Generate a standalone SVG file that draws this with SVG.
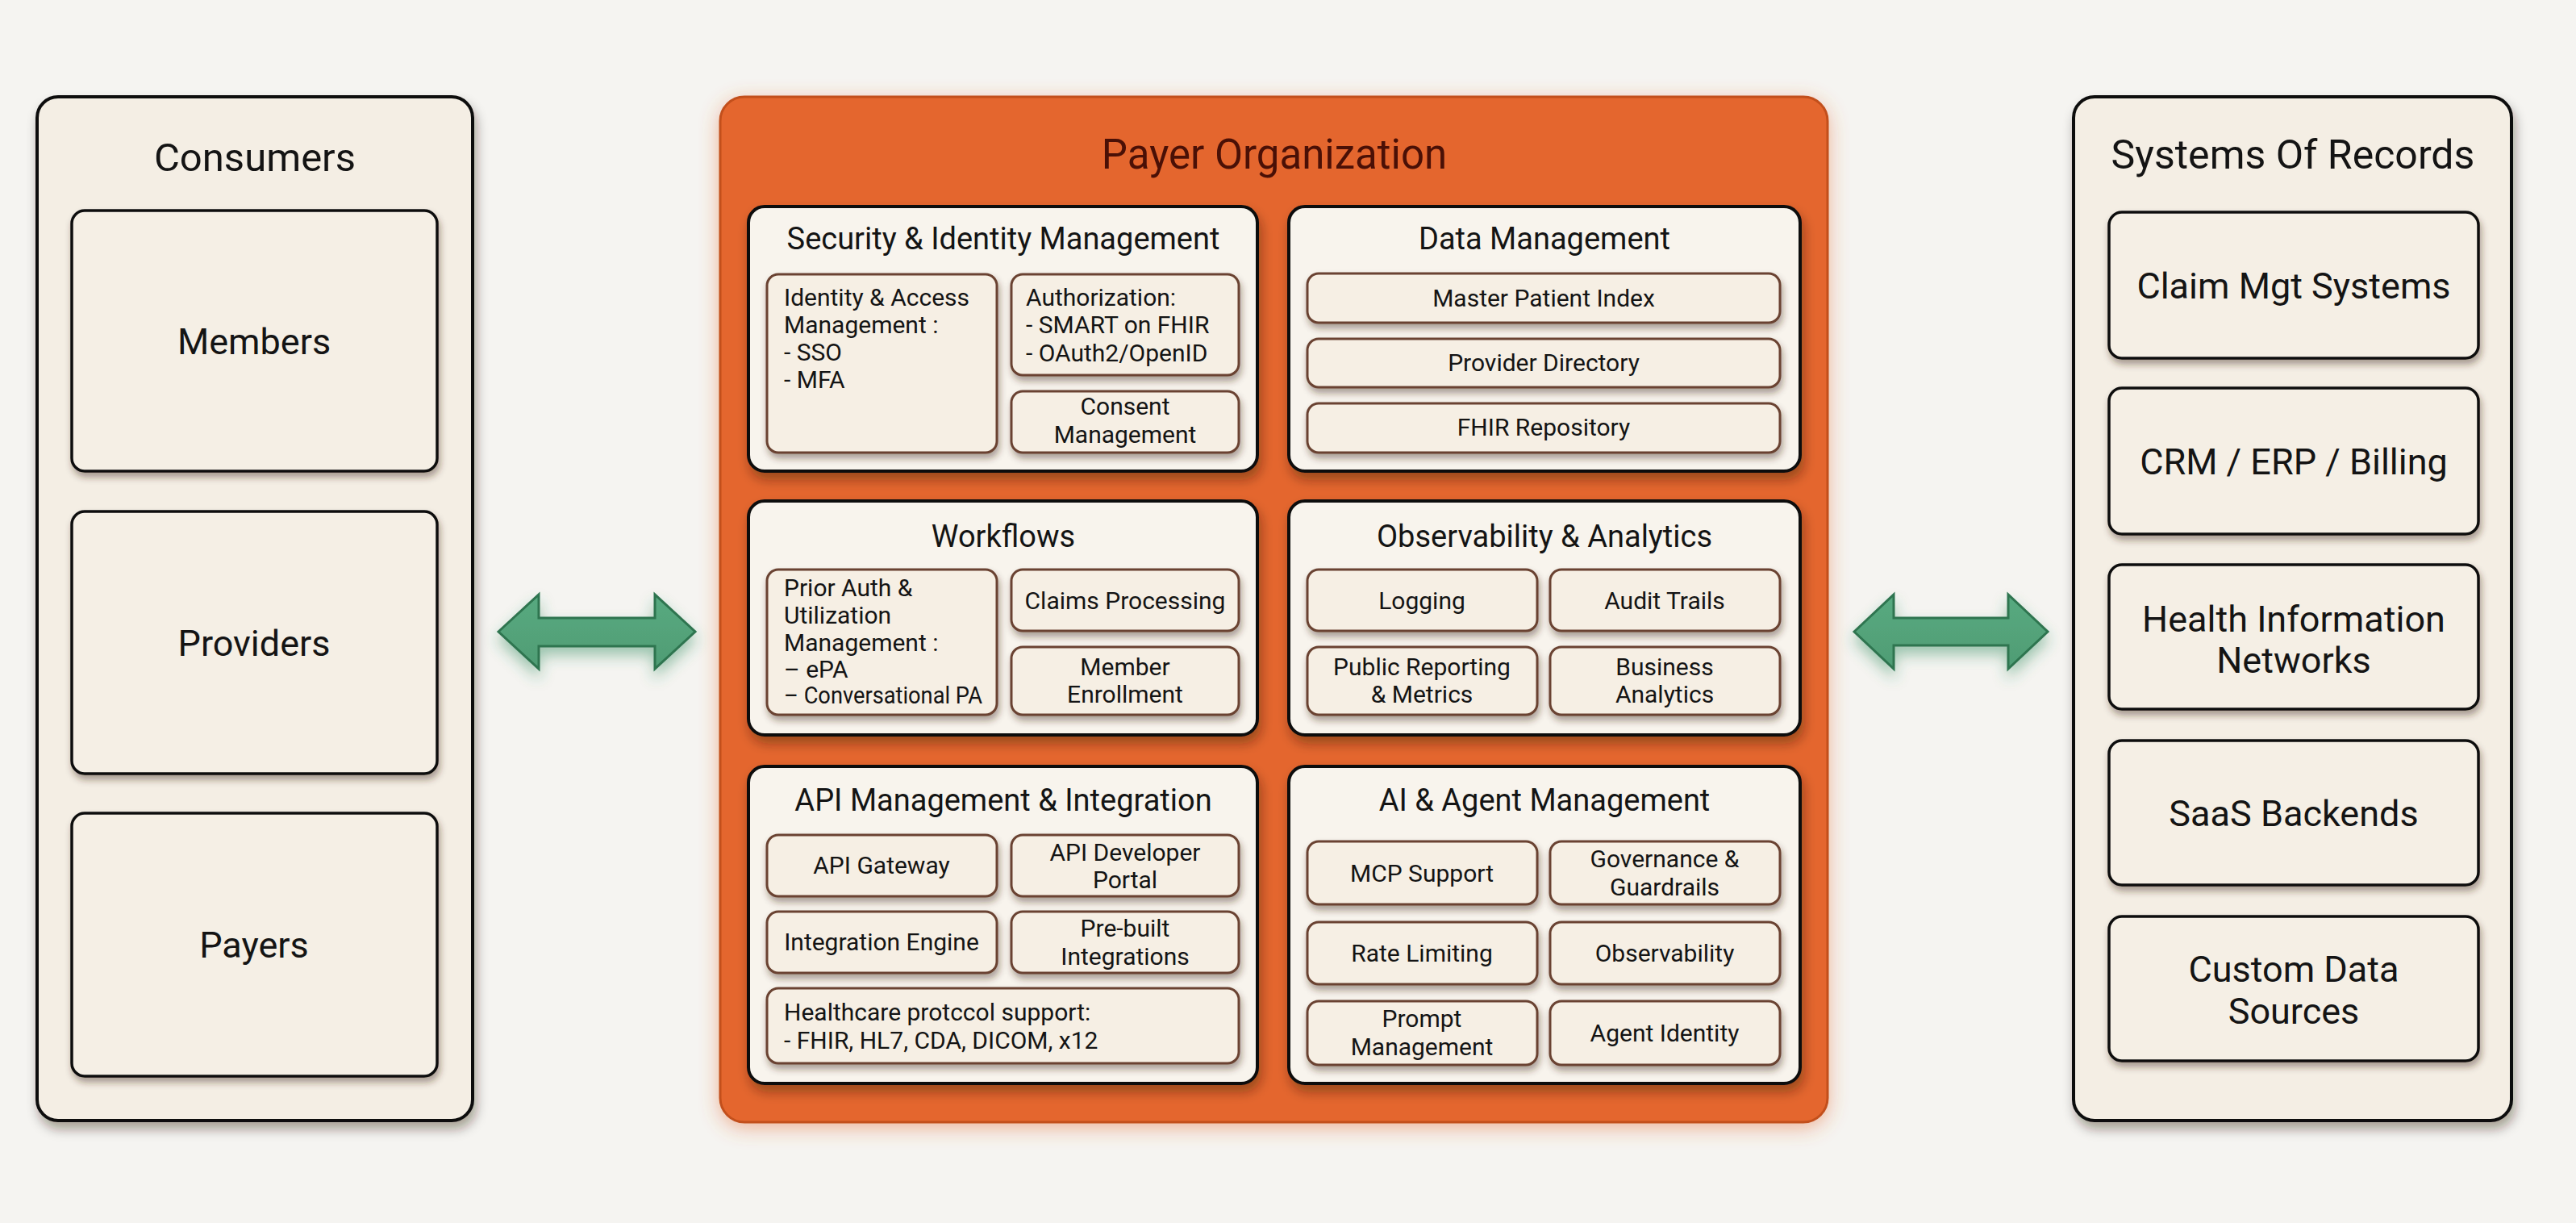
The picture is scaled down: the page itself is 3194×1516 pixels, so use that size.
<svg xmlns="http://www.w3.org/2000/svg" width="3194" height="1516" viewBox="0 0 3194 1516">
<defs>
<filter id="shBig" x="-10%" y="-10%" width="120%" height="120%">
<feDropShadow dx="3" dy="9" stdDeviation="7" flood-color="#2a1a10" flood-opacity="0.38"/>
</filter>
<filter id="shSm" x="-10%" y="-20%" width="120%" height="150%">
<feDropShadow dx="2" dy="6" stdDeviation="4" flood-color="#3a2414" flood-opacity="0.42"/>
</filter>
<filter id="glowOr" x="-10%" y="-10%" width="120%" height="120%">
<feDropShadow dx="0" dy="6" stdDeviation="12" flood-color="#e4662d" flood-opacity="0.45"/>
</filter>
<filter id="glowGr" x="-30%" y="-50%" width="160%" height="220%">
<feDropShadow dx="0" dy="10" stdDeviation="9" flood-color="#2f8a5a" flood-opacity="0.45"/>
</filter>
<linearGradient id="grArrow" x1="0" y1="0" x2="0" y2="1">
<stop offset="0" stop-color="#58aa80"/>
<stop offset="1" stop-color="#4f9c74"/>
</linearGradient>
</defs>
<style>
text{font-family:Roboto,"Liberation Sans","Noto Sans",sans-serif;fill:#141414}
.col{fill:#f4eee4;stroke:#111;stroke-width:4;filter:url(#shBig)}
.colItem{fill:#f5efe5;stroke:#111;stroke-width:3.5;filter:url(#shSm)}
.sec{fill:#f8f4ed;stroke:#111;stroke-width:4;filter:url(#shBig)}
.sub{fill:#f6efe4;stroke:#6a4330;stroke-width:3;filter:url(#shSm)}
.h1{font-size:49px;text-anchor:middle}
.h2{font-size:38px;text-anchor:middle}
.it{font-size:45px;text-anchor:middle}
.sm{font-size:30px}
.smc{font-size:30px;text-anchor:middle}
.arrow{fill:url(#grArrow);stroke:#2e7450;stroke-width:3;stroke-linejoin:miter;filter:url(#glowGr)}
</style>
<rect x="0" y="0" width="3194" height="1516" fill="#f5f4f1"/>

<g id="consumers">
<rect class="col" x="46" y="120" width="540" height="1269" rx="26"/>
<text class="h1" x="316" y="212">Consumers</text>
</g>
<g id="members">
<rect class="colItem" x="89" y="261" width="453" height="323" rx="16"/>
<text class="it" x="315" y="439">Members</text>
</g>
<g id="providers">
<rect class="colItem" x="89" y="634" width="453" height="325" rx="16"/>
<text class="it" x="315" y="813">Providers</text>
</g>
<g id="payers">
<rect class="colItem" x="89" y="1008" width="453" height="326" rx="16"/>
<text class="it" x="315" y="1187">Payers</text>
</g>

<g id="payer-organization">
<rect x="893" y="120" width="1373" height="1271" rx="30" fill="#e4662d" stroke="#c24f1b" stroke-width="3" filter="url(#glowOr)"/>
<text class="h1" x="1580" y="209" style="fill:#4a1006;font-size:51px">Payer Organization</text>
</g>

<g id="security">
<rect class="sec" x="928" y="256" width="631" height="328" rx="20"/>
<text class="h2" x="1244" y="309">Security &amp; Identity Management</text>
</g>
<g id="iam">
<rect class="sub" x="951" y="340" width="285" height="221" rx="14"/>
<text class="sm" x="972" y="379">Identity &amp; Access</text>
<text class="sm" x="972" y="413">Management :</text>
<text class="sm" x="972" y="447">- SSO</text>
<text class="sm" x="972" y="481">- MFA</text>
</g>
<g id="authorization">
<rect class="sub" x="1254" y="340" width="282" height="125" rx="14"/>
<text class="sm" x="1272" y="379">Authorization:</text>
<text class="sm" x="1272" y="413">- SMART on FHIR</text>
<text class="sm" x="1272" y="448">- OAuth2/OpenID</text>
</g>
<g id="consent">
<rect class="sub" x="1254" y="485" width="282" height="76" rx="14"/>
<text class="smc" x="1395" y="514">Consent</text>
<text class="smc" x="1395" y="549">Management</text>
</g>

<g id="data-management">
<rect class="sec" x="1598" y="256" width="634" height="328" rx="20"/>
<text class="h2" x="1915" y="309">Data Management</text>
</g>
<g id="mpi">
<rect class="sub" x="1621" y="339" width="586" height="61" rx="14"/>
<text class="smc" x="1914" y="380">Master Patient Index</text>
</g>
<g id="provider-directory">
<rect class="sub" x="1621" y="420" width="586" height="60" rx="14"/>
<text class="smc" x="1914" y="460">Provider Directory</text>
</g>
<g id="fhir-repository">
<rect class="sub" x="1621" y="500" width="586" height="61" rx="14"/>
<text class="smc" x="1914" y="540">FHIR Repository</text>
</g>

<g id="workflows">
<rect class="sec" x="928" y="621" width="631" height="290" rx="20"/>
<text class="h2" x="1244" y="678">Workflows</text>
</g>
<g id="prior-auth">
<rect class="sub" x="951" y="706" width="285" height="180" rx="14"/>
<text class="sm" x="972" y="739">Prior Auth &amp;</text>
<text class="sm" x="972" y="773">Utilization</text>
<text class="sm" x="972" y="807">Management :</text>
<text class="sm" x="972" y="840">– ePA</text>
<text class="sm" x="972" y="872" textLength="246" lengthAdjust="spacingAndGlyphs">– Conversational PA</text>
</g>
<g id="claims-processing">
<rect class="sub" x="1254" y="706" width="282" height="76" rx="14"/>
<text class="smc" x="1395" y="755">Claims Processing</text>
</g>
<g id="member-enrollment">
<rect class="sub" x="1254" y="802" width="282" height="84" rx="14"/>
<text class="smc" x="1395" y="837">Member</text>
<text class="smc" x="1395" y="871">Enrollment</text>
</g>

<g id="observability-analytics">
<rect class="sec" x="1598" y="621" width="634" height="290" rx="20"/>
<text class="h2" x="1915" y="678">Observability &amp; Analytics</text>
</g>
<g id="logging">
<rect class="sub" x="1621" y="706" width="285" height="76" rx="14"/>
<text class="smc" x="1763" y="755">Logging</text>
</g>
<g id="audit-trails">
<rect class="sub" x="1922" y="706" width="285" height="76" rx="14"/>
<text class="smc" x="2064" y="755">Audit Trails</text>
</g>
<g id="public-reporting">
<rect class="sub" x="1621" y="802" width="285" height="84" rx="14"/>
<text class="smc" x="1763" y="837">Public Reporting</text>
<text class="smc" x="1763" y="871">&amp; Metrics</text>
</g>
<g id="business-analytics">
<rect class="sub" x="1922" y="802" width="285" height="84" rx="14"/>
<text class="smc" x="2064" y="837">Business</text>
<text class="smc" x="2064" y="871">Analytics</text>
</g>

<g id="api-management">
<rect class="sec" x="928" y="950" width="631" height="393" rx="20"/>
<text class="h2" x="1244" y="1005">API Management &amp; Integration</text>
</g>
<g id="api-gateway">
<rect class="sub" x="951" y="1035" width="285" height="76" rx="14"/>
<text class="smc" x="1093" y="1083">API Gateway</text>
</g>
<g id="api-dev-portal">
<rect class="sub" x="1254" y="1035" width="282" height="76" rx="14"/>
<text class="smc" x="1395" y="1067">API Developer</text>
<text class="smc" x="1395" y="1101">Portal</text>
</g>
<g id="integration-engine">
<rect class="sub" x="951" y="1130" width="285" height="76" rx="14"/>
<text class="smc" x="1093" y="1178">Integration Engine</text>
</g>
<g id="prebuilt-integrations">
<rect class="sub" x="1254" y="1130" width="282" height="76" rx="14"/>
<text class="smc" x="1395" y="1161">Pre-built</text>
<text class="smc" x="1395" y="1196">Integrations</text>
</g>
<g id="healthcare-protocol">
<rect class="sub" x="951" y="1225" width="585" height="93" rx="14"/>
<text class="sm" x="972" y="1265">Healthcare protccol support:</text>
<text class="sm" x="972" y="1300">- FHIR, HL7, CDA, DICOM, x12</text>
</g>

<g id="ai-agent-management">
<rect class="sec" x="1598" y="950" width="634" height="393" rx="20"/>
<text class="h2" x="1915" y="1005">AI &amp; Agent Management</text>
</g>
<g id="mcp-support">
<rect class="sub" x="1621" y="1043" width="285" height="78" rx="14"/>
<text class="smc" x="1763" y="1093">MCP Support</text>
</g>
<g id="governance">
<rect class="sub" x="1922" y="1043" width="285" height="78" rx="14"/>
<text class="smc" x="2064" y="1075">Governance &amp;</text>
<text class="smc" x="2064" y="1110">Guardrails</text>
</g>
<g id="rate-limiting">
<rect class="sub" x="1621" y="1143" width="285" height="77" rx="14"/>
<text class="smc" x="1763" y="1192">Rate Limiting</text>
</g>
<g id="ai-observability">
<rect class="sub" x="1922" y="1143" width="285" height="77" rx="14"/>
<text class="smc" x="2064" y="1192">Observability</text>
</g>
<g id="prompt-management">
<rect class="sub" x="1621" y="1241" width="285" height="79" rx="14"/>
<text class="smc" x="1763" y="1273">Prompt</text>
<text class="smc" x="1763" y="1308">Management</text>
</g>
<g id="agent-identity">
<rect class="sub" x="1922" y="1241" width="285" height="79" rx="14"/>
<text class="smc" x="2064" y="1291">Agent Identity</text>
</g>

<g id="systems-of-records">
<rect class="col" x="2571" y="120" width="543" height="1269" rx="26"/>
<text class="h1" x="2843" y="209" style="font-size:50px">Systems Of Records</text>
</g>
<g id="claim-mgt">
<rect class="colItem" x="2615" y="263" width="458" height="181" rx="16"/>
<text class="it" x="2844" y="370">Claim Mgt Systems</text>
</g>
<g id="crm-erp">
<rect class="colItem" x="2615" y="481" width="458" height="181" rx="16"/>
<text class="it" x="2844" y="588">CRM / ERP / Billing</text>
</g>
<g id="hin">
<rect class="colItem" x="2615" y="700" width="458" height="179" rx="16"/>
<text class="it" x="2844" y="783">Health Information</text>
<text class="it" x="2844" y="834">Networks</text>
</g>
<g id="saas">
<rect class="colItem" x="2615" y="918" width="458" height="179" rx="16"/>
<text class="it" x="2844" y="1024">SaaS Backends</text>
</g>
<g id="custom-data">
<rect class="colItem" x="2615" y="1136" width="458" height="179" rx="16"/>
<text class="it" x="2844" y="1217">Custom Data</text>
<text class="it" x="2844" y="1269">Sources</text>
</g>

<g id="connectors">
<path class="arrow" d="M618,783 L668,737 L668,766 L812,766 L812,737 L862,783 L812,829 L812,801 L668,801 L668,829 Z"/>
<path class="arrow" d="M2299,783 L2348,737 L2348,766 L2490,766 L2490,737 L2539,783 L2490,829 L2490,800 L2348,800 L2348,829 Z"/>
</g>
</svg>
